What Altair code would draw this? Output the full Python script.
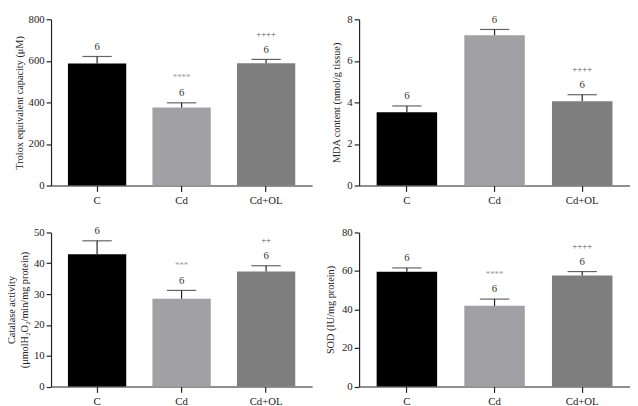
import altair as alt
import pandas as pd

groups = ["C", "Cd", "Cd+OL"]
n_per_group = ["6", "6", "6"]
bar_colors = ["#000000", "#a1a1a5", "#7e7e7e"]

trolox_mean = [587, 375, 588]
trolox_sem = [34, 23, 19]
trolox_sig = ["", "****", "++++"]

mda_mean = [3.53, 7.23, 4.06]
mda_sem = [0.30, 0.28, 0.31]
mda_sig = ["", "****", "++++"]

cat_mean = [42.9, 28.5, 37.3]
cat_sem = [4.4, 2.7, 1.9]
cat_sig = ["", "***", "++"]

sod_mean = [59.6, 41.9, 57.7]
sod_sem = [2.0, 3.5, 2.0]
sod_sig = ["", "****", "++++"]

FONT = "Liberation Serif"
INK = "#222222"


def sig_color(s):
    return "#555555" if "+" in s else "#9a9a9a"


def panel(mean, sem, sig, ymax, ticks, title, w, h, tpad):
    df = pd.DataFrame({
        "group": groups,
        "mean": mean,
        "sem": sem,
        "n": n_per_group,
        "sig": sig,
        "color": bar_colors,
        "sigcolor": [sig_color(s) for s in sig],
    })
    base = alt.Chart(df).transform_calculate(top="datum.mean + datum.sem")
    x = alt.X("group:N", sort=groups,
              scale=alt.Scale(paddingInner=0.31, paddingOuter=0.2),
              axis=alt.Axis(title=None, labelAngle=0, tickSize=6, labelPadding=3))
    yscale = alt.Scale(domain=[0, ymax], nice=False)
    yaxis = alt.Axis(title=title, values=ticks, tickSize=5, labelPadding=2,
                     titlePadding=tpad, labelOverlap=False, titleLineHeight=13.5)

    def Y(field):
        return alt.Y(field, scale=yscale, axis=yaxis, title=title)

    bars = base.mark_bar().encode(
        x=x, y=Y("mean:Q"), color=alt.Color("color:N", scale=None))
    err = base.mark_rule(color=INK, strokeWidth=1.2).encode(
        x=x, y=Y("mean:Q"), y2="top:Q")
    cap = base.mark_tick(color=INK, thickness=1.2, size=30).encode(
        x=x, y=Y("top:Q"))
    ntext = base.mark_text(font=FONT, fontSize=11, color="#333333",
                           baseline="middle", dy=-10).encode(
        x=x, y=Y("top:Q"), text="n:N")
    stext = base.mark_text(font=FONT, fontSize=9, baseline="middle",
                           dy=-26).encode(
        x=x, y=Y("top:Q"), text="sig:N",
        color=alt.Color("sigcolor:N", scale=None))
    return alt.layer(bars, err, cap, ntext, stext).properties(width=w, height=h)


p1 = panel(trolox_mean, trolox_sem, trolox_sig, 800, [0, 200, 400, 600, 800],
           "Trolox equivalent capacity (μM)", 267, 170, 4)
p2 = panel(mda_mean, mda_sem, mda_sig, 8, [0, 2, 4, 6, 8],
           "MDA content (nmol/g tissue)", 277, 170, 6)
p3 = panel(cat_mean, cat_sem, cat_sig, 50, [0, 10, 20, 30, 40, 50],
           ["Catalase activity", "(μmolH₂O₂/min/mg protein)"], 267, 157.5, 4)
p4 = panel(sod_mean, sod_sem, sod_sig, 80, [0, 20, 40, 60, 80],
           "SOD (IU/mg protein)", 277, 157.5, 6)

row1 = alt.hconcat(p1, p2, spacing=48, bounds="flush")
row2 = alt.hconcat(p3, p4, spacing=48, bounds="flush")
chart = alt.vconcat(row1, row2, spacing=6).properties(
    padding={"left": -2, "top": -13, "right": 0, "bottom": 0}
).configure_view(stroke=None).configure_axis(
    labelFont=FONT, titleFont=FONT, labelFontSize=11, titleFontSize=10.5,
    titleFontWeight="normal", labelColor=INK, titleColor=INK,
    domainColor=INK, tickColor=INK, grid=False, domainWidth=1.2, tickWidth=1.2,
)

chart.save("out.html", embed_options={"renderer": "svg", "actions": False})
